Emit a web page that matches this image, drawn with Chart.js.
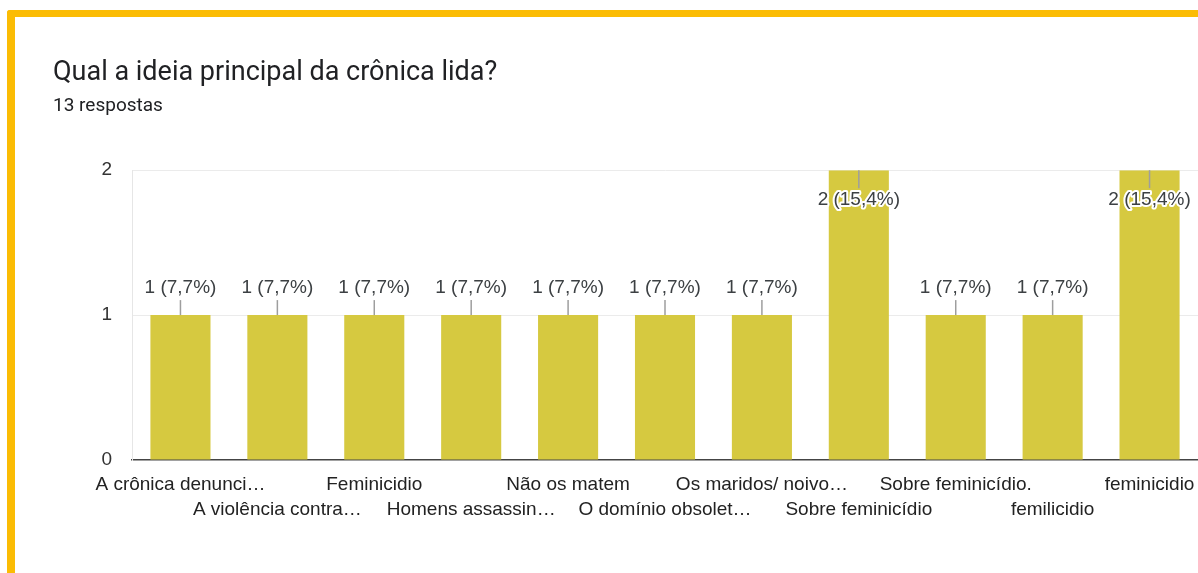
<!DOCTYPE html>
<html>
<head>
<meta charset="utf-8">
<script src="https://cdn.jsdelivr.net/npm/chart.js@4/dist/chart.umd.min.js"></script>
<style>
  html, body { margin: 0; padding: 0; background: #fff; overflow: hidden; }
  #wrap { position: relative; width: 1198px; height: 573px; }
  #_canvasc { position: absolute; left: 0; top: 0; }
  #frame {
    position: absolute; left: 7px; top: 10px; width: 1300px; height: 700px;
    border-left: 8px solid #fbbc04; border-top: 7px solid #fbbc04;
    border-top-left-radius: 3px; pointer-events: none;
  }
</style>
</head>
<body>
<div id="wrap">
  <canvas id="_canvasc" width="1198" height="573"></canvas>
  <div id="frame"></div>
</div>
<script>
	// ******************************************************** DATA

	var categories = [
		"A crônica denunci…", "A violência contra…", "Feminicidio", "Homens assassin…",
		"Não os matem", "O domínio obsolet…", "Os maridos/ noivo…", "Sobre feminicídio",
		"Sobre feminicídio.", "femilicidio", "feminicidio"
	];
	var counts = [1, 1, 1, 1, 1, 1, 1, 2, 1, 1, 2];
	var yTicks = [0, 1, 2];
	var totalAnswers = 13;

	var tickFont = '"Liberation Sans", Arial, sans-serif';

	// ******************************************************** LABELS ON BARS

	var barLabels = {
		id: 'barLabels',
		afterDatasetsDraw: function (chart) {
			var ctx = chart.ctx;
			var meta = chart.getDatasetMeta(0);
			var top = chart.chartArea.top;
			ctx.save();
			ctx.font = '19px ' + tickFont;
			ctx.textAlign = 'center';
			ctx.textBaseline = 'middle';
			meta.data.forEach(function (bar, i) {
				var v = counts[i];
				var pct = (v / totalAnswers * 100).toFixed(1).replace('.', ',');
				var txt = v + ' (' + pct + '%)';
				var x = bar.x, y = bar.y, ty;
				ctx.strokeStyle = '#9e9e9e';
				ctx.lineWidth = 1.5;
				ctx.beginPath();
				if (y - 40 < top) {
					ctx.moveTo(x, y); ctx.lineTo(x, y + 18);
					ty = y + 30;
				} else {
					ctx.moveTo(x, y); ctx.lineTo(x, y - 15);
					ty = y - 27;
				}
				ctx.stroke();
				ctx.lineWidth = 4;
				ctx.lineJoin = 'round';
				ctx.strokeStyle = '#ffffff';
				ctx.strokeText(txt, x, ty);
				ctx.fillStyle = '#3c4043';
				ctx.fillText(txt, x, ty);
			});
			ctx.restore();
		}
	};

	// ******************************************************** CHART

	var config = {
		type: 'bar',
		data: {
			labels: categories,
			datasets: [{
				data: counts,
				backgroundColor: '#d6c940',
				categoryPercentage: 1,
				barPercentage: 0.62
			}]
		},
		options: {
			responsive: false,
			animation: false,
			layout: { padding: { left: 53, right: 0, top: 0, bottom: 39 } },
			plugins: {
				legend: { display: false },
				tooltip: { enabled: false },
				title: {
					display: true,
					align: 'start',
					text: 'Qual a ideia principal da crônica lida?',
					color: '#202124',
					font: { family: 'Roboto', size: 27, weight: 'normal', lineHeight: 1.2 },
					padding: { top: 57, bottom: 0 }
				},
				subtitle: {
					display: true,
					align: 'start',
					text: '13 respostas',
					color: '#202124',
					font: { family: 'Roboto', size: 19, weight: 'normal', lineHeight: 1.2 },
					padding: { top: 5, bottom: 53 }
				}
			},
			scales: {
				x: {
					afterFit: function (scale) { scale.paddingRight = 0; scale.paddingLeft = 0; },
					grid: { display: false, drawTicks: false },
					border: { display: true, color: '#444', width: 1.5 },
					ticks: {
						autoSkip: false,
						maxRotation: 0,
						minRotation: 0,
						padding: 12,
						color: '#222',
						font: { family: tickFont, size: 19, lineHeight: '25px' },
						callback: function (val, i) {
							return i % 2 === 0 ? categories[i] : ['', categories[i]];
						}
					}
				},
				y: {
					min: yTicks[0],
					max: yTicks[yTicks.length - 1],
					afterFit: function (scale) { scale.width = 79; },
					afterBuildTicks: function (scale) {
						scale.ticks = yTicks.map(function (v) { return { value: v }; });
					},
					border: { display: true, color: '#e6e6e6', width: 1 },
					grid: {
						drawTicks: false,
						color: function (c) { return c.tick && c.tick.value === 0 ? 'rgba(0,0,0,0)' : '#ebebeb'; }
					},
					ticks: {
						padding: 20,
						color: '#333',
						font: { family: tickFont, size: 19 }
					}
				}
			}
		},
		plugins: [barLabels]
	};

	var _ctxc = document.getElementById("_canvasc").getContext("2d");
	window.myBars = new Chart(_ctxc, config);
</script>
</body>
</html>
